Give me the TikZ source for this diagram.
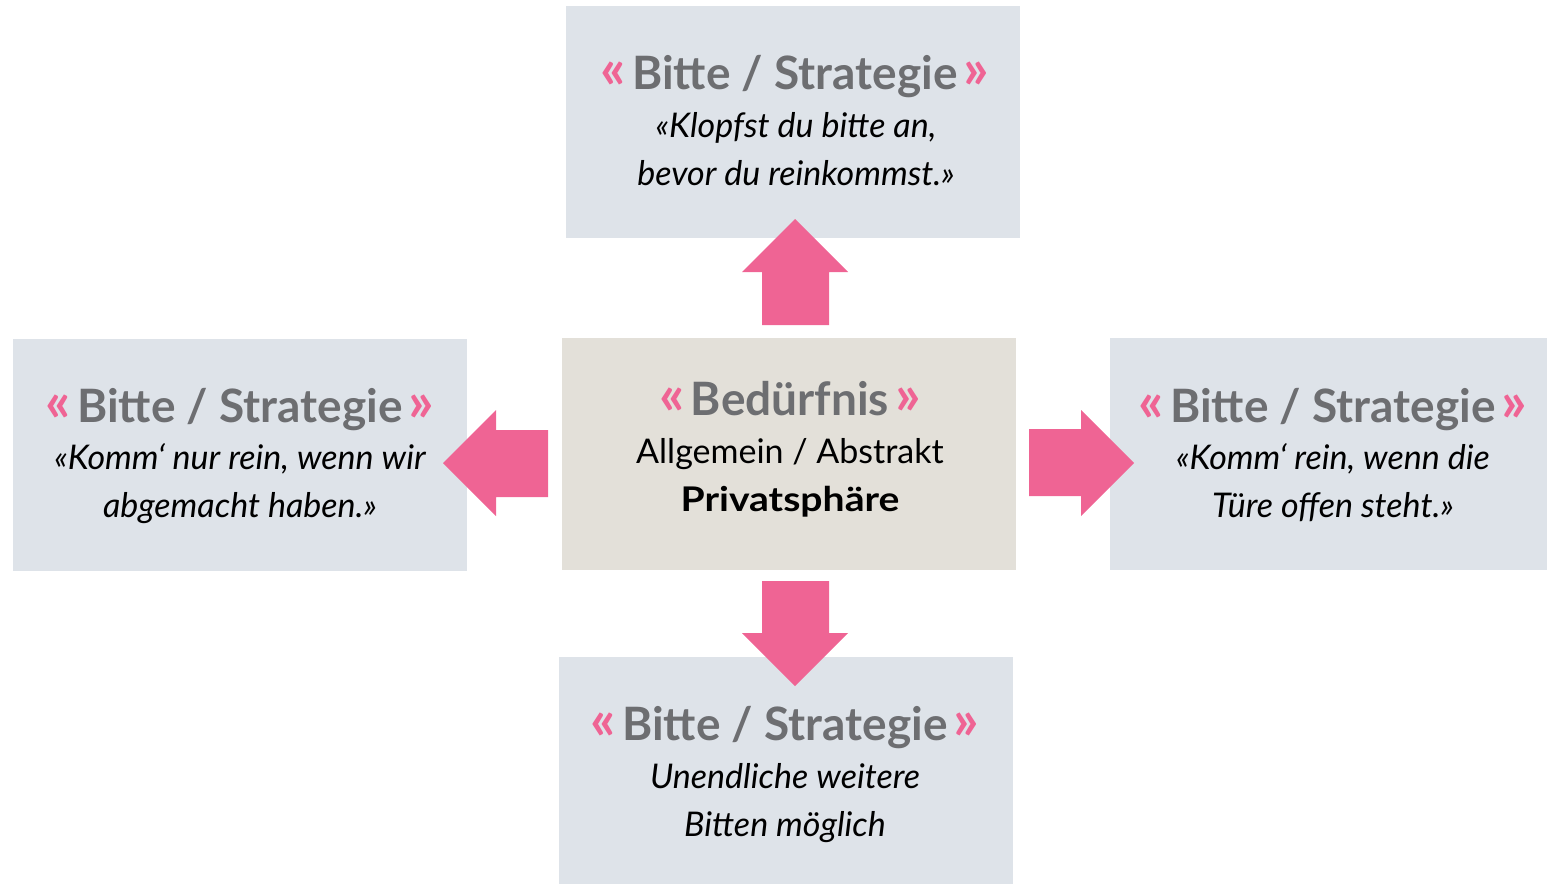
\documentclass[tikz,border=0pt]{standalone}
\usepackage{fontspec}
\setmainfont{Lato}
\definecolor{boxblue}{HTML}{DEE3E9}
\definecolor{boxbeige}{HTML}{E3E0D9}
\definecolor{arrowpink}{HTML}{EF6494}
\definecolor{titlegrey}{HTML}{6D6E71}
\newcommand{\pkl}{\textcolor{arrowpink}{\raisebox{1pt}{\fontsize{56}{56}\selectfont\bfseries «}}\kern6pt}
\newcommand{\pkr}{\kern6pt\textcolor{arrowpink}{\raisebox{1pt}{\fontsize{56}{56}\selectfont\bfseries »}}}
\newcommand{\ttlfont}{\fontsize{46}{50}\selectfont\bfseries}
\newcommand{\bodyfont}{\fontsize{34}{36}\selectfont}
\tikzset{
  blockbox/.style={inner sep=0pt, outer sep=0pt, anchor=north west},
  ttl/.style={anchor=base, inner sep=0pt, font=\ttlfont, text=titlegrey},
  body/.style={anchor=base, inner sep=0pt, font=\bodyfont\itshape, text=black},
  cbody/.style={anchor=base, inner sep=0pt, font=\bodyfont, text=black},
  blockarrow/.style={fill=arrowpink, draw=none}
}
\begin{document}
\begin{tikzpicture}[x=1pt,y=-1pt]
\useasboundingbox (0,0) rectangle (1547,884);
% boxes
\node[blockbox, fill=boxblue, minimum width=454pt, minimum height=232pt] (top) at (566,6) {};
\node[blockbox, fill=boxbeige, minimum width=454pt, minimum height=232pt] (center) at (562,338) {};
\node[blockbox, fill=boxblue, minimum width=454pt, minimum height=232pt] (left) at (13,339) {};
\node[blockbox, fill=boxblue, minimum width=437pt, minimum height=232pt] (right) at (1110,338) {};
\node[blockbox, fill=boxblue, minimum width=454pt, minimum height=227pt] (bottom) at (559,657) {};
% arrows
\fill[blockarrow] (762,325) -- (762,272) -- (742,272) -- (795,219) -- (848,272) -- (829,272) -- (829,325) -- cycle;
\fill[blockarrow] (548,430) -- (496,430) -- (496,410) -- (443,463) -- (496,516) -- (496,497) -- (548,497) -- cycle;
\fill[blockarrow] (1029,429) -- (1081,429) -- (1081,410) -- (1134,463) -- (1081,516) -- (1081,496) -- (1029,496) -- cycle;
\fill[blockarrow] (762,581) -- (762,633) -- (742,633) -- (795,686) -- (848,633) -- (829,633) -- (829,581) -- cycle;
% top text
\node[ttl] (toptitle) at (795,89) {\pkl Bitte / Strategie\pkr};
\node[body] (topl1) at (796,137) {«Klopfst du bitte an,};
\node[body] (topl2) at (796,185) {bevor du reinkommst.»};
% center text
\node[ttl] (ctitle) at (790,415) {\pkl Bedürfnis\pkr};
\node[cbody] (cl1) at (790,463) {Allgemein / Abstrakt};
\node[cbody] (cl2) at (790,511) {\scalebox{1.15}[1]{\bfseries Privatsphäre}};
% left text
\node[ttl] (ltitle) at (240,422) {\pkl Bitte / Strategie\pkr};
\node[body] (ll1) at (240,469) {«Komm‘ nur rein, wenn wir};
\node[body] (ll2) at (240,517) {abgemacht haben.»};
% right text
\node[ttl] (rtitle) at (1333,422) {\pkl Bitte / Strategie\pkr};
\node[body] (rl1) at (1333,469) {«Komm‘ rein, wenn die};
\node[body] (rl2) at (1333,517) {Türe offen steht.»};
% bottom text
\node[ttl] (btitle) at (785,740) {\pkl Bitte / Strategie\pkr};
\node[body] (bl1) at (785,788) {Unendliche weitere};
\node[body] (bl2) at (785,836) {Bitten möglich};
\end{tikzpicture}
\end{document}
